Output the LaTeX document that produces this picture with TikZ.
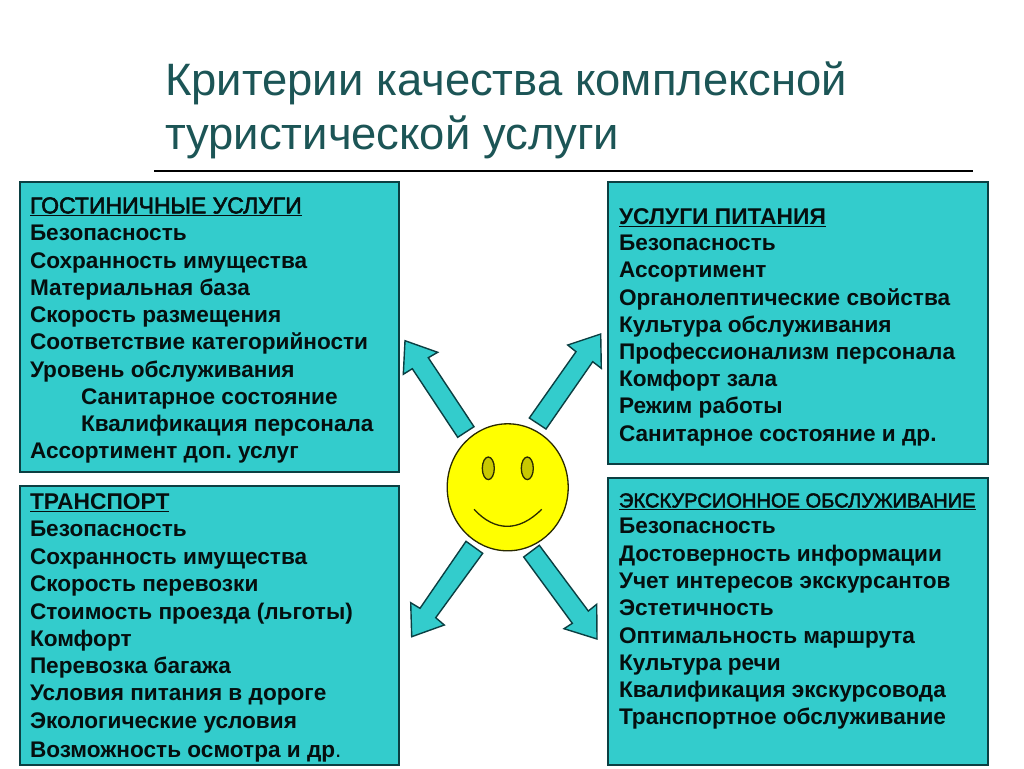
\documentclass[tikz,border=0pt]{standalone}
\usepackage{fontspec}
\setmainfont{Liberation Sans}
\newfontface\semifont[FakeBold=2.5]{Liberation Sans}
\frenchspacing
\definecolor{boxfill}{HTML}{33CCCC}
\definecolor{boxline}{HTML}{0B3F42}
\definecolor{titlecol}{HTML}{1C5556}
\definecolor{eyecol}{HTML}{C8C800}
\definecolor{facecol}{RGB}{255,255,0}
\definecolor{faceline}{HTML}{2A2A00}
\definecolor{inkcol}{HTML}{050F0F}
\tikzset{
  panel/.style={draw=boxline,fill=boxfill,line width=1.2pt},
  blockarrow/.style={draw=boxline,fill=boxfill,line width=1.4pt,line join=miter},
  faceshape/.style={draw=faceline,line width=1.3pt},
  item/.style={anchor=base west,inner sep=0pt,outer sep=0pt,text=inkcol,yshift=-0.6pt,font=\fontsize{22.6}{22.6}\selectfont\bfseries},
  head/.style={anchor=base west,inner sep=0pt,outer sep=0pt,text=inkcol,yshift=-0.4pt,font=\fontsize{22.8}{22.8}\selectfont\bfseries},
  headmid/.style={anchor=base west,inner sep=0pt,outer sep=0pt,text=inkcol,yshift=-0.4pt,font=\fontsize{23}{23}\selectfont\semifont},
  headsmall/.style={anchor=base west,inner sep=0pt,outer sep=0pt,text=inkcol,yshift=-0.4pt,font=\fontsize{20.1}{20.1}\selectfont\semifont},
  titletext/.style={anchor=base west,inner sep=0pt,outer sep=0pt,text=titlecol,font=\fontsize{45.4}{45.4}\selectfont}
}
\begin{document}
\begin{tikzpicture}[x=1pt,y=-1pt]
\useasboundingbox (0,0) rectangle (1024,768);
\fill[white] (0,0) rectangle (1024,768);
\node[titletext] (t1) at (165,95) {Критерии качества комплексной};
\node[titletext] (t2) at (165,149) {туристической услуги};
\draw[line width=1.3pt,black] (154,171) -- (973,171);

\draw[panel] (20,182) rectangle (399,472);
\draw[panel] (20,486) rectangle (399,765);
\draw[panel] (608,182) rectangle (988,464);
\draw[panel] (608,478) rectangle (988,765);

\node[headmid] (a0) at (30,213) {\underline{ГОСТИНИЧНЫЕ УСЛУГИ}};
\node[item] (a1) at (30,240) {Безопасность};
\node[item] (a2) at (30,268) {Сохранность имущества};
\node[item] (a3) at (30,295) {Материальная база};
\node[item] (a4) at (30,322) {Скорость размещения};
\node[item] (a5) at (30,349) {Соответствие категорийности};
\node[item] (a6) at (30,377) {Уровень обслуживания};
\node[item] (a7) at (81,404) {Санитарное состояние};
\node[item] (a8) at (81,431) {Квалификация персонала};
\node[item] (a9) at (30,458) {Ассортимент доп. услуг};

\node[head] (b0) at (30,509) {\underline{ТРАНСПОРТ}};
\node[item] (b1) at (30,536) {Безопасность};
\node[item] (b2) at (30,564) {Сохранность имущества};
\node[item] (b3) at (30,591) {Скорость перевозки};
\node[item] (b4) at (30,619) {Стоимость проезда (льготы)};
\node[item] (b5) at (30,646) {Комфорт};
\node[item] (b6) at (30,673) {Перевозка багажа};
\node[item] (b7) at (30,700) {Условия питания в дороге};
\node[item] (b8) at (30,728) {Экологические условия};
\node[item] (b9) at (30,757) {Возможность осмотра и др{\mdseries.}};

\node[head] (c0) at (619,224) {\underline{УСЛУГИ ПИТАНИЯ}};
\node[item] (c1) at (619,250) {Безопасность};
\node[item] (c2) at (619,277) {Ассортимент};
\node[item] (c3) at (619,305) {Органолептические свойства};
\node[item] (c4) at (619,332) {Культура обслуживания};
\node[item] (c5) at (619,359) {Профессионализм персонала};
\node[item] (c6) at (619,386) {Комфорт зала};
\node[item] (c7) at (619,413) {Режим работы};
\node[item] (c8) at (619,441) {Санитарное состояние и др.};

\node[headsmall] (d0) at (619,507) {\underline{ЭКСКУРСИОННОЕ ОБСЛУЖИВАНИЕ}};
\node[item] (d1) at (619,533) {Безопасность};
\node[item] (d2) at (619,561) {Достоверность информации};
\node[item] (d3) at (619,588) {Учет интересов экскурсантов};
\node[item] (d4) at (619,615) {Эстетичность};
\node[item] (d5) at (619,643) {Оптимальность маршрута};
\node[item] (d6) at (619,670) {Культура речи};
\node[item] (d7) at (619,697) {Квалификация экскурсовода};
\node[item] (d8) at (619,724) {Транспортное обслуживание};

\draw[blockarrow] (457.7,437.3) -- (412.3,368.7) -- (403.3,374.3) -- (405,340.7) -- (437.7,352.3) -- (428.3,357.7) -- (474,426.7) -- cycle;
\draw[blockarrow] (529.3,418) -- (576,351.7) -- (567.7,345) -- (600.7,334) -- (601.3,368.3) -- (592.7,361.7) -- (546,429) -- cycle;
\draw[blockarrow] (466,541.3) -- (420,608.3) -- (410.7,602.7) -- (411.7,636.7) -- (444.3,625) -- (435.7,617.7) -- (482.7,553.3) -- cycle;
\draw[blockarrow] (539.3,545.3) -- (588.3,611) -- (596.7,604.3) -- (597,639) -- (564,628.7) -- (572.3,623.3) -- (523.7,557) -- cycle;

\draw[faceshape,fill=facecol] (507.7,487.3) ellipse [x radius=60.5,y radius=63.5];
\draw[faceshape,fill=eyecol] (488.3,468.3) ellipse [x radius=6,y radius=11.3];
\draw[faceshape,fill=eyecol] (527.3,468.3) ellipse [x radius=6,y radius=11.3];
\draw[faceshape] (474,509.3) .. controls (495,532) and (519,532) .. (541.7,509.3);
\end{tikzpicture}
\end{document}
